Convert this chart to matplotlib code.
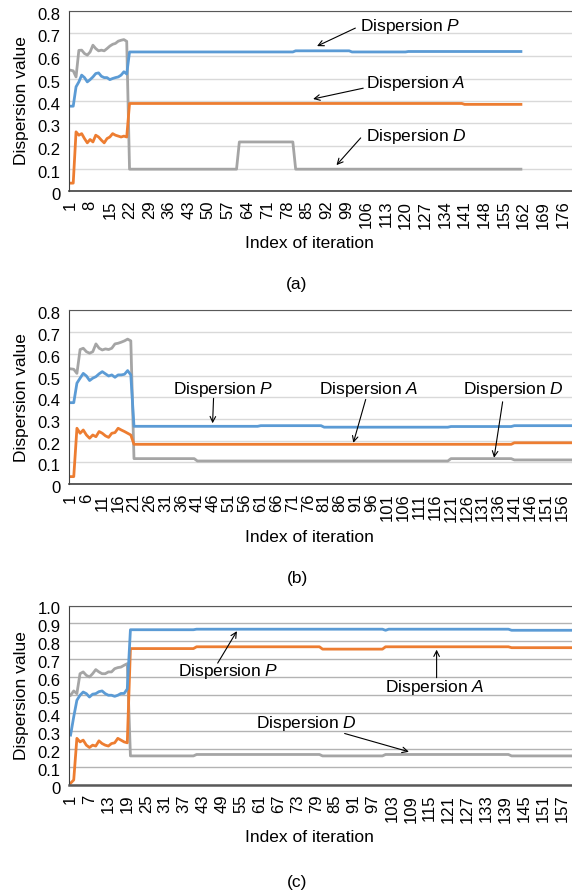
import numpy as np
import matplotlib as mpl
mpl.use('Agg')
from matplotlib import pyplot as plt
from matplotlib.transforms import ScaledTranslation

plt.rcParams['font.family'] = ['Liberation Sans', 'DejaVu Sans']
plt.rcParams['mathtext.fontset'] = 'custom'
plt.rcParams['mathtext.it'] = 'Liberation Sans:italic'
plt.rcParams['mathtext.rm'] = 'Liberation Sans'

# ---- panel (a) ----
a_n_cat = 179
a_xticks = list(range(1, 177, 7))
a_P_early = [0.377, 0.377, 0.463, 0.485, 0.515, 0.504, 0.485, 0.495, 0.507, 0.522, 0.525,
             0.510, 0.504, 0.504, 0.495, 0.500, 0.504, 0.507, 0.515, 0.530, 0.520]
a_A_early = [0.035, 0.035, 0.263, 0.248, 0.255, 0.233, 0.214, 0.229, 0.218, 0.248, 0.240,
             0.226, 0.214, 0.233, 0.240, 0.255, 0.248, 0.244, 0.240, 0.244, 0.240]
a_D_early = [0.537, 0.534, 0.507, 0.625, 0.626, 0.611, 0.604, 0.618, 0.648, 0.633, 0.623,
             0.626, 0.623, 0.633, 0.644, 0.652, 0.656, 0.666, 0.670, 0.673, 0.665]
# plateaus: (first index, last index, value)
a_P_late = [(22, 80, 0.618), (81, 100, 0.623), (101, 120, 0.618), (121, 161, 0.620)]
a_A_late = [(22, 140, 0.389), (141, 161, 0.385)]
a_D_late = [(22, 60, 0.097), (61, 80, 0.218), (81, 161, 0.097)]

# ---- panel (b) ----
b_n_cat = 159
b_xticks = list(range(1, 157, 5))
b_P_early = [0.375, 0.375, 0.465, 0.488, 0.510, 0.498, 0.477, 0.488, 0.495, 0.508,
             0.518, 0.508, 0.498, 0.503, 0.492, 0.503, 0.503, 0.506, 0.523, 0.503]
b_A_early = [0.034, 0.034, 0.257, 0.234, 0.249, 0.226, 0.211, 0.226, 0.218, 0.242,
             0.234, 0.222, 0.215, 0.234, 0.237, 0.257, 0.249, 0.242, 0.234, 0.226]
b_D_early = [0.531, 0.529, 0.510, 0.620, 0.626, 0.610, 0.603, 0.610, 0.646, 0.626,
             0.618, 0.623, 0.620, 0.626, 0.646, 0.649, 0.654, 0.660, 0.668, 0.660]
b_P_late = [(21, 60, 0.266), (61, 80, 0.269), (81, 120, 0.262), (121, 140, 0.265), (141, 159, 0.269)]
b_A_late = [(21, 140, 0.183), (141, 159, 0.190)]
b_D_late = [(21, 40, 0.117), (41, 120, 0.106), (121, 140, 0.117), (141, 159, 0.111)]

# ---- panel (c) ----
c_n_cat = 160
c_xticks = list(range(1, 158, 6))
c_P_early = [0.278, 0.380, 0.472, 0.500, 0.518, 0.509, 0.490, 0.506, 0.509, 0.520,
             0.524, 0.509, 0.500, 0.500, 0.494, 0.500, 0.510, 0.510, 0.535]
c_A_early = [0.010, 0.028, 0.260, 0.240, 0.250, 0.222, 0.209, 0.222, 0.217, 0.246,
             0.231, 0.222, 0.217, 0.231, 0.235, 0.260, 0.250, 0.240, 0.235]
c_D_early = [0.500, 0.524, 0.509, 0.620, 0.630, 0.611, 0.602, 0.620, 0.643, 0.630,
             0.620, 0.620, 0.630, 0.630, 0.648, 0.654, 0.657, 0.667, 0.676]
c_P_late = [(20, 40, 0.865), (41, 100, 0.868), (101, 101, 0.862), (102, 140, 0.868), (141, 160, 0.862)]
c_A_late = [(20, 40, 0.760), (41, 80, 0.770), (81, 100, 0.757), (101, 140, 0.770), (141, 160, 0.765)]
c_D_late = [(20, 40, 0.162), (41, 80, 0.170), (81, 100, 0.162), (101, 140, 0.170), (141, 160, 0.162)]

blue = '#5b9bd5'
orange = '#ed7d31'
gray = '#a5a5a5'


def expand(early, late):
    vals = list(early)
    for start, end, v in late:
        vals += [v] * (end - start + 1)
    return vals


W, H = 572, 894
fig = plt.figure(figsize=(W / 100, H / 100), dpi=100)


def make_axes(top, bottom):
    return fig.add_axes([69 / W, 1 - bottom / H, 504 / W, (bottom - top) / H])


def style(ax, n_cat, xticks, ymax, grid_color, yticklabels):
    ax.set_xlim(0.5, n_cat + 0.5)
    ax.set_ylim(0, ymax)
    ax.set_yticks(np.arange(0, ymax + 0.001, 0.1))
    ax.set_yticklabels(yticklabels, fontsize=12)
    ax.set_xticks(xticks)
    ax.set_xticklabels([str(t) for t in xticks], rotation=90, fontsize=12)
    ax.tick_params(axis='both', length=0)
    ax.tick_params(axis='y', pad=6)
    ax.tick_params(axis='x', pad=7)
    ax.yaxis.grid(True, color=grid_color, lw=1.0)
    ax.set_axisbelow(True)
    ax.spines['right'].set_visible(False)
    ax.spines['top'].set_color('#595959')
    ax.spines['left'].set_color('#404040')
    ax.spines['bottom'].set_color('#404040')
    ax.spines['bottom'].set_linewidth(1.2)
    off = ScaledTranslation(0, -0.03, fig.dpi_scale_trans)
    for lab in ax.get_yticklabels():
        lab.set_transform(lab.get_transform() + off)
    ax.set_ylabel('Dispersion value', fontsize=12.5, va='center')
    ax.yaxis.set_label_coords((21.5 - 69) / 504, 0.5)


def draw(ax, P, A, D):
    for vals, col in [(D, gray), (A, orange), (P, blue)]:
        x = np.arange(1, len(vals) + 1)
        ax.plot(x, vals, color=col, lw=2.0, solid_joinstyle='round')


def note(ax, label, txt, start, tip):
    ax.text(txt[0], txt[1], 'Dispersion $\\mathit{' + label + '}$', fontsize=12.5,
            ha='left', va='center')
    ax.annotate('', xy=tip, xytext=start,
                arrowprops=dict(arrowstyle='->', lw=0.8, color='black',
                                shrinkA=0, shrinkB=0, mutation_scale=10))


def xlabel(ax, y_px, top, bottom):
    ax.set_xlabel('Index of iteration', fontsize=12.5, va='center')
    ax.xaxis.set_label_coords((309 - 69) / 504, -(y_px - bottom) / (bottom - top))


ylabs8 = ['0'] + ['%.1f' % v for v in np.arange(0.1, 0.81, 0.1)]
ylabs10 = ['0'] + ['%.1f' % v for v in np.arange(0.1, 1.01, 0.1)]

# (a)
ax1 = make_axes(11, 191)
draw(ax1, expand(a_P_early, a_P_late), expand(a_A_early, a_A_late), expand(a_D_early, a_D_late))
style(ax1, a_n_cat, a_xticks, 0.8, '#d9d9d9', ylabs8)
xlabel(ax1, 243, 11, 191)
note(ax1, 'P', (104.0, 0.732), (102.2, 0.724), (88.6, 0.644))
note(ax1, 'A', (106.1, 0.479), (105.0, 0.457), (87.2, 0.409))
note(ax1, 'D', (106.1, 0.244), (104.1, 0.236), (95.5, 0.115))
fig.text(297 / W, 1 - 285 / H, '(a)', fontsize=12.5, ha='center', va='center')

# (b)
ax2 = make_axes(310.5, 484)
draw(ax2, expand(b_P_early, b_P_late), expand(b_A_early, b_A_late), expand(b_D_early, b_D_late))
style(ax2, b_n_cat, b_xticks, 0.8, '#d9d9d9', ylabs8)
xlabel(ax2, 538, 310.5, 484)
note(ax2, 'P', (33.4, 0.436), (46.1, 0.395), (45.8, 0.280))
note(ax2, 'A', (79.3, 0.436), (94.1, 0.390), (90.2, 0.190))
note(ax2, 'D', (124.9, 0.436), (137.3, 0.379), (134.6, 0.121))
fig.text(297 / W, 1 - 578 / H, '(b)', fontsize=12.5, ha='center', va='center')

# (c)
ax3 = make_axes(605.5, 785)
draw(ax3, expand(c_P_early, c_P_late), expand(c_A_early, c_A_late), expand(c_D_early, c_D_late))
style(ax3, c_n_cat, c_xticks, 1.0, '#b3b3b3', ylabs10)
ax3.spines['bottom'].set_color('#595959')
ax3.spines['bottom'].set_linewidth(1.8)
xlabel(ax3, 838, 605.5, 785)
note(ax3, 'P', (35.2, 0.635), (47.7, 0.679), (53.8, 0.857))
note(ax3, 'A', (100.7, 0.543), (117.2, 0.598), (117.2, 0.754))
note(ax3, 'D', (60.0, 0.343), (88.0, 0.287), (108.4, 0.185))
fig.text(297 / W, 1 - 882 / H, '(c)', fontsize=12.5, ha='center', va='center')

fig.savefig('out.png', dpi=100)
